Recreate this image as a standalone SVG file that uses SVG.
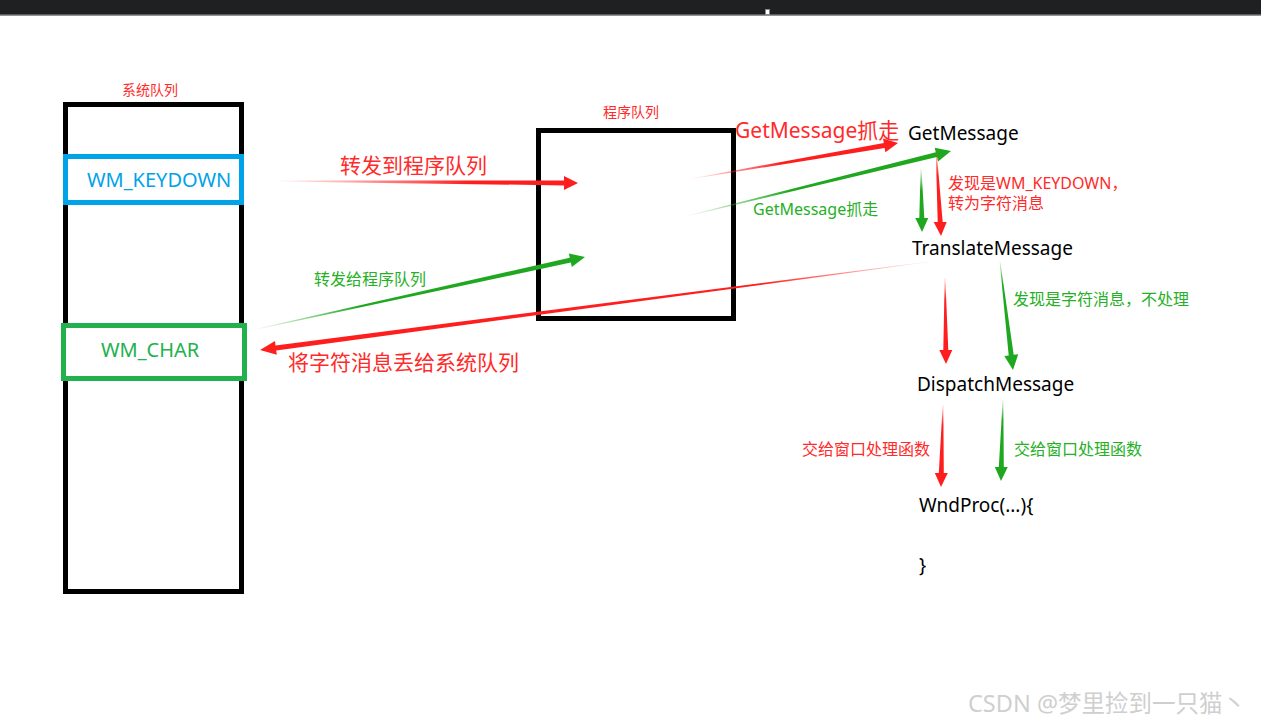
<svg xmlns="http://www.w3.org/2000/svg" width="1261" height="725" viewBox="0 0 1261 725">
<style>
text{font-family:"Noto Sans","Noto Sans CJK SC",sans-serif;}
.box{fill:none;stroke:#000;stroke-width:5;}
.red{fill:#ff2a2a;}
.grn{fill:#25b025;}
.blk{fill:#000;}
.t14{font-size:14px;}
.t16{font-size:16px;}
.t19{font-size:19px;}
.t20{font-size:20px;}
.t21{font-size:21px;}
</style>
<defs>
<linearGradient id="gA" gradientUnits="userSpaceOnUse" x1="275" y1="181" x2="470" y2="182"><stop offset="0" stop-color="#ff1e1e" stop-opacity="0"/><stop offset="1" stop-color="#ff1e1e"/></linearGradient>
<linearGradient id="gB" gradientUnits="userSpaceOnUse" x1="690" y1="179" x2="780" y2="163"><stop offset="0" stop-color="#ff1e1e" stop-opacity="0"/><stop offset="1" stop-color="#ff1e1e"/></linearGradient>
<linearGradient id="gC" gradientUnits="userSpaceOnUse" x1="683" y1="217" x2="790" y2="191"><stop offset="0" stop-color="#1fa81f" stop-opacity="0"/><stop offset="1" stop-color="#1fa81f"/></linearGradient>
<linearGradient id="gD" gradientUnits="userSpaceOnUse" x1="921" y1="166" x2="921" y2="190"><stop offset="0" stop-color="#1fa81f" stop-opacity="0"/><stop offset="1" stop-color="#1fa81f"/></linearGradient>
<linearGradient id="gE" gradientUnits="userSpaceOnUse" x1="936" y1="148" x2="938" y2="175"><stop offset="0" stop-color="#ff1e1e" stop-opacity="0"/><stop offset="1" stop-color="#ff1e1e"/></linearGradient>
<linearGradient id="gF" gradientUnits="userSpaceOnUse" x1="935" y1="261" x2="760" y2="284"><stop offset="0" stop-color="#ff1e1e" stop-opacity="0"/><stop offset="1" stop-color="#ff1e1e"/></linearGradient>
<linearGradient id="gG" gradientUnits="userSpaceOnUse" x1="252" y1="330" x2="360" y2="306"><stop offset="0" stop-color="#1fa81f" stop-opacity="0"/><stop offset="1" stop-color="#1fa81f"/></linearGradient>
<linearGradient id="gH" gradientUnits="userSpaceOnUse" x1="945" y1="278" x2="945" y2="300"><stop offset="0" stop-color="#ff1e1e" stop-opacity="0.2"/><stop offset="1" stop-color="#ff1e1e"/></linearGradient>
<linearGradient id="gI" gradientUnits="userSpaceOnUse" x1="1000" y1="262" x2="1003" y2="285"><stop offset="0" stop-color="#1fa81f" stop-opacity="0.2"/><stop offset="1" stop-color="#1fa81f"/></linearGradient>
<linearGradient id="gJ" gradientUnits="userSpaceOnUse" x1="943" y1="405" x2="943" y2="425"><stop offset="0" stop-color="#ff1e1e" stop-opacity="0.2"/><stop offset="1" stop-color="#ff1e1e"/></linearGradient>
<linearGradient id="gK" gradientUnits="userSpaceOnUse" x1="1003" y1="400" x2="1003" y2="420"><stop offset="0" stop-color="#1fa81f" stop-opacity="0.2"/><stop offset="1" stop-color="#1fa81f"/></linearGradient>
</defs>
<rect x="0" y="0" width="1261" height="725" fill="#fff"/>
<rect x="0" y="0" width="1261" height="15" fill="#1f2022"/>
<line x1="0" y1="15" x2="1261" y2="15" stroke="#707070" stroke-width="1.5"/>
<rect x="765.5" y="9.5" width="4" height="5" fill="#fff" stroke="#888" stroke-width="1"/>

<g id="system-queue">
<rect class="box" x="65.5" y="104.5" width="176" height="487"/>
<text class="red t14" x="122" y="95">系统队列</text>
</g>
<g id="wm-keydown">
<rect x="65.5" y="156.5" width="176" height="46" fill="#fff" stroke="#00a2e8" stroke-width="5"/>
<text class="t20" x="87" y="187" fill="#00a2e8">WM_KEYDOWN</text>
</g>
<g id="wm-char">
<rect x="63.5" y="325.5" width="181" height="53" fill="#fff" stroke="#22b14c" stroke-width="5"/>
<text class="t20" x="101" y="357" fill="#22b14c">WM_CHAR</text>
</g>
<g id="program-queue">
<rect class="box" x="538.5" y="130.5" width="195" height="188"/>
<text class="red t14" x="603" y="117">程序队列</text>
</g>
<g id="getmessage"><text class="blk t19" x="908" y="140">GetMessage</text></g>
<g id="translatemessage"><text class="blk t19" x="912" y="255">TranslateMessage</text></g>
<g id="dispatchmessage"><text class="blk t19" x="917" y="391">DispatchMessage</text></g>
<g id="wndproc">
<text class="blk t19" x="919" y="512">WndProc(...){</text>
<text class="blk t19" x="919" y="572">}</text>
</g>

<g id="connectors">
<polygon fill="url(#gA)" points="275,180.6 564,180.4 564,176 578,183 564,190 564,185.4 275,181.4"/>
<polygon fill="url(#gB)" points="690.05,179.3 884.6,147.9 885.4,152.3 898,143 883.0,138.5 883.8,142.9 689.95,178.7"/>
<polygon fill="url(#gC)" points="683.07,217.29 937.0,157.0 938.1,161.4 951,151 934.7,147.8 935.8,152.2 682.93,216.71"/>
<polygon fill="url(#gD)" points="921.3,166 924.3,218 928.3,218 922,232 915.3,218 919.3,218 920.7,166"/>
<polygon fill="url(#gE)" points="936.3,148 942.7,222 946.7,222 941,236 933.7,222 937.7,222 935.7,148"/>
<polygon fill="url(#gF)" points="934.96,260.7 275.5,345.4 275.0,341.0 260,350 276.8,354.8 276.2,350.4 935.04,261.3"/>
<polygon fill="url(#gG)" points="252.06,330.29 570.8,262.6 571.8,267.0 585,257 568.8,253.4 569.8,257.8 251.94,329.71"/>
<polygon fill="url(#gH)" points="945.3,278 948.3,350 952.3,350 946,364 939.3,350 943.3,350 944.7,278"/>
<polygon fill="url(#gI)" points="1000.3,261.96 1013.7,354.8 1018.2,354.3 1013,370 1004.3,355.9 1008.7,355.4 999.7,262.04"/>
<polygon fill="url(#gJ)" points="943.3,405 943.8,473 947.8,473 941,487 934.8,473 938.8,473 942.7,405"/>
<polygon fill="url(#gK)" points="1003.3,400 1003.8,467 1007.8,467 1001,481 994.8,467 998.8,467 1002.7,400"/>
</g>

<g id="labels">
<text class="red t21" x="340" y="173">转发到程序队列</text>
<text class="red t21" x="735" y="138">GetMessage抓走</text>
<text class="grn t16" x="753" y="215">GetMessage抓走</text>
<text class="red t16" x="948" y="189">发现是WM_KEYDOWN，</text>
<text class="red t16" x="948" y="209">转为字符消息</text>
<text class="grn t16" x="1013" y="305">发现是字符消息，不处理</text>
<text class="grn t16" x="314" y="285">转发给程序队列</text>
<text class="red t21" x="288" y="370">将字符消息丢给系统队列</text>
<text class="red t16" x="802" y="455">交给窗口处理函数</text>
<text class="grn t16" x="1014" y="455">交给窗口处理函数</text>
</g>
<text x="968" y="712" font-size="23.5" fill="#cfcfcf">CSDN @梦里捡到一只猫丶</text>
</svg>
